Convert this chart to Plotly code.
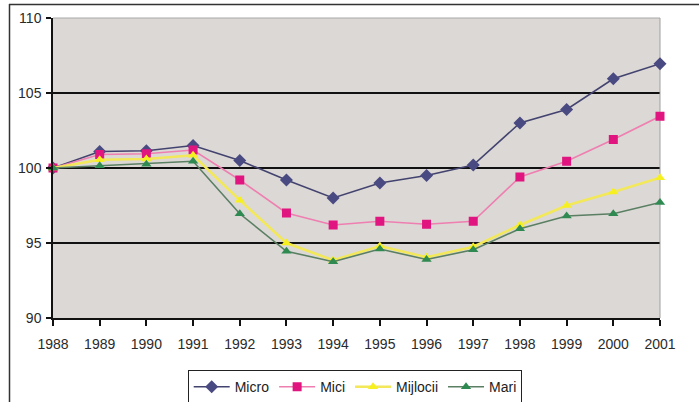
import plotly.graph_objects as go

years = [1988, 1989, 1990, 1991, 1992, 1993, 1994, 1995, 1996, 1997, 1998, 1999, 2000, 2001]
micro = [100.0, 101.1, 101.15, 101.5, 100.5, 99.2, 98.0, 99.0, 99.5, 100.2, 103.0, 103.9, 105.95, 106.95]
mici = [100.0, 100.9, 100.95, 101.2, 99.2, 97.0, 96.2, 96.45, 96.25, 96.45, 99.4, 100.45, 101.9, 103.45]
mijlocii = [100.0, 100.55, 100.6, 100.85, 97.85, 95.0, 93.85, 94.8, 94.05, 94.75, 96.2, 97.5, 98.4, 99.35]
mari = [100.0, 100.15, 100.25, 100.45, 96.95, 94.45, 93.75, 94.6, 93.9, 94.55, 95.95, 96.8, 96.95, 97.7]

y_ticks = [90, 95, 100, 105, 110]
grid_values = [95, 100, 105]

FONT = "Liberation Sans, Arial, sans-serif"

series = [
    ("Micro", micro, "#43436f", "#4a4a82", "diamond", 10, 1.6),
    ("Mici", mici, "#ee7fb0", "#e0157f", "square", 9, 1.6),
    ("Mijlocii", mijlocii, "#f2e85a", "#f7f020", "triangle-up", 9, 2.6),
    ("Mari", mari, "#5a7f62", "#2f8a52", "triangle-up", 9, 1.6),
]

fig = go.Figure()
for name, vals, lc, mc, sym, ms, lw in series:
    fig.add_trace(go.Scatter(
        x=years, y=vals, name=name, mode="lines+markers",
        line=dict(color=lc, width=lw),
        marker=dict(symbol=sym, size=ms, color=mc, line=dict(width=0)),
        cliponaxis=False,
    ))

W, H = 699, 402
L, R, T, B = 53, 39, 18, 84
pw, ph = W - L - R, H - T - B
def px(x):
    return (x - L) / pw
def py(y):
    return (H - B - y) / ph

shapes = []
for g in grid_values:
    shapes.append(dict(type="line", xref="paper", yref="y", x0=0, x1=1, y0=g, y1=g,
                       line=dict(color="#111111", width=2), layer="below"))
# plot area top and right borders (light grey)
shapes.append(dict(type="line", xref="paper", yref="paper", x0=0, x1=1, y0=1, y1=1,
                   line=dict(color="#a8a8a8", width=1), layer="below"))
shapes.append(dict(type="line", xref="paper", yref="paper", x0=1, x1=1, y0=0, y1=1,
                   line=dict(color="#a0a0a0", width=1), layer="below"))
# outer frame: left edge and top edge
shapes.append(dict(type="line", xref="paper", yref="paper",
                   x0=px(9.5), x1=px(9.5), y0=py(402), y1=py(4),
                   line=dict(color="#333333", width=1.5)))
shapes.append(dict(type="line", xref="paper", yref="paper",
                   x0=px(9), x1=px(699), y0=py(4.5), y1=py(4.5),
                   line=dict(color="#333333", width=1.5)))

# top frame edge also as a thin filled annotation box
annotations = [dict(
    xref="paper", yref="paper", x=px(9), y=py(3.5), xanchor="left", yanchor="top",
    text=" ", showarrow=False, width=690, height=1, bgcolor="#333333",
    borderpad=0, borderwidth=0, font=dict(size=1),
)]

fig.update_layout(
    width=W, height=H,
    margin=dict(l=L, r=R, t=T, b=B, autoexpand=False),
    paper_bgcolor="white",
    plot_bgcolor="#dcd8d6",
    font=dict(family=FONT, size=14, color="#2a2a2a"),
    shapes=shapes,
    annotations=annotations,
    showlegend=True,
    legend=dict(
        orientation="h", x=px(355), xanchor="center", y=py(370), yanchor="top",
        bordercolor="#222222", borderwidth=1.2, bgcolor="white",
        font=dict(family=FONT, size=14, color="#222222"),
        itemwidth=36, tracegroupgap=0,
    ),
    xaxis=dict(
        range=[years[0], years[-1]], tickmode="array", tickvals=years,
        ticktext=[str(y) for y in years],
        showgrid=False, zeroline=False, automargin=False,
        showline=True, linecolor="#111111", linewidth=1.5,
        ticks="outside", ticklen=6, tickcolor="#111111", tickwidth=1.5,
        ticklabelstandoff=6,
    ),
    yaxis=dict(
        range=[90, 110], tickmode="array", tickvals=y_ticks,
        showgrid=False, zeroline=False, automargin=False,
        showline=True, linecolor="#111111", linewidth=1.5,
        ticks="outside", ticklen=5, tickcolor="#111111", tickwidth=1.5,
        ticklabelstandoff=2,
    ),
)

fig.write_html("out.html", config={"displayModeBar": False},
               post_script="document.body.style.margin='0';document.body.style.overflow='hidden';")
